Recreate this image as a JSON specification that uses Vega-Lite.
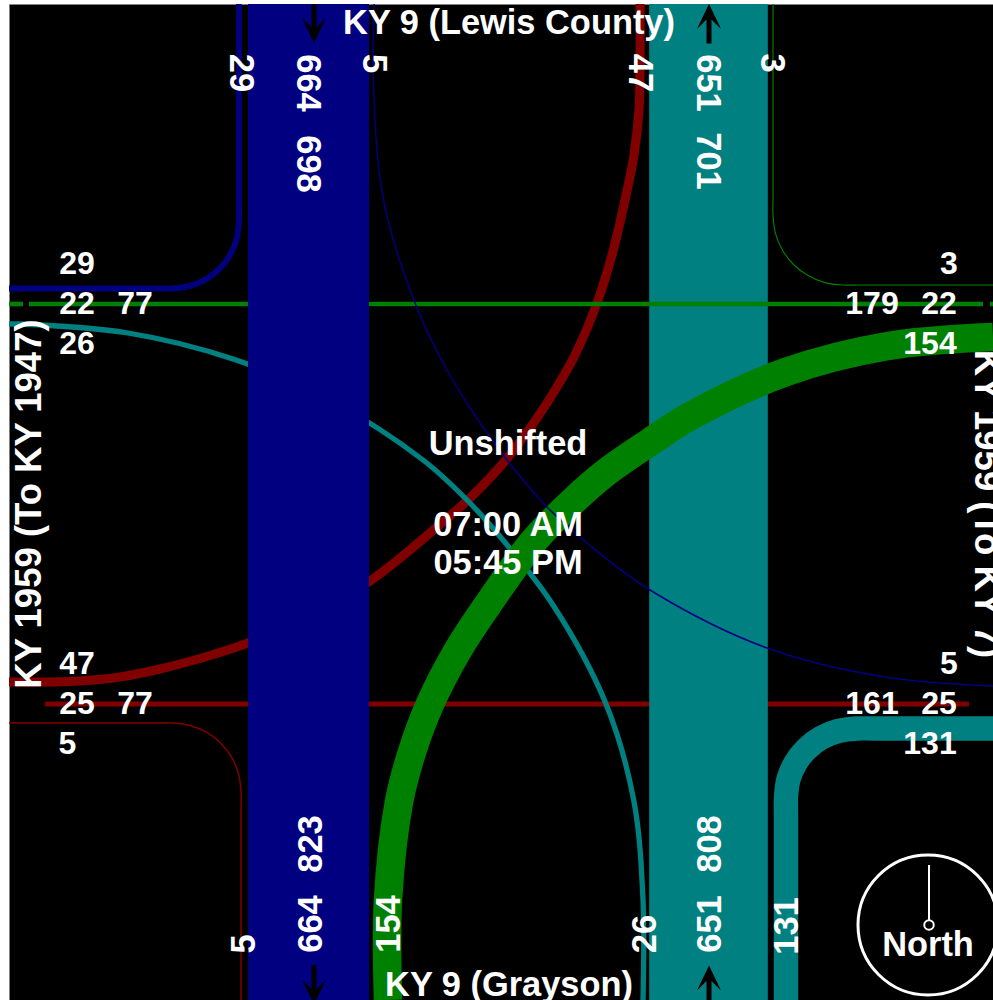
{
"$schema":"https://vega.github.io/schema/vega-lite/v6.json",
"width":984,"height":996,
"autosize":"none",
"padding":{"left":9,"top":4,"right":0,"bottom":0},
"background":"white",
"view":{"fill":"black","stroke":"#808080","strokeWidth":1},
"datasets":{
"flows":[
{"flow":"W-through","approach":"From west","volume":25,"seq":1,"x":45,"y":704},{"flow":"W-through","approach":"From west","volume":25,"seq":2,"x":969,"y":704},
{"flow":"W-left","approach":"From west","volume":47,"seq":1,"x":640,"y":4},{"flow":"W-left","approach":"From west","volume":47,"seq":2,"x":640,"y":70},{"flow":"W-left","approach":"From west","volume":47,"seq":3,"x":639,"y":110},{"flow":"W-left","approach":"From west","volume":47,"seq":4,"x":634,"y":155},{"flow":"W-left","approach":"From west","volume":47,"seq":5,"x":625,"y":200},{"flow":"W-left","approach":"From west","volume":47,"seq":6,"x":612,"y":255},{"flow":"W-left","approach":"From west","volume":47,"seq":7,"x":597,"y":303},{"flow":"W-left","approach":"From west","volume":47,"seq":8,"x":575,"y":355},{"flow":"W-left","approach":"From west","volume":47,"seq":9,"x":557,"y":387},{"flow":"W-left","approach":"From west","volume":47,"seq":10,"x":535,"y":421},{"flow":"W-left","approach":"From west","volume":47,"seq":11,"x":505,"y":461},{"flow":"W-left","approach":"From west","volume":47,"seq":12,"x":470,"y":498},{"flow":"W-left","approach":"From west","volume":47,"seq":13,"x":430,"y":533},{"flow":"W-left","approach":"From west","volume":47,"seq":14,"x":400,"y":558},{"flow":"W-left","approach":"From west","volume":47,"seq":15,"x":370,"y":581},{"flow":"W-left","approach":"From west","volume":47,"seq":16,"x":330,"y":605},{"flow":"W-left","approach":"From west","volume":47,"seq":17,"x":290,"y":626},{"flow":"W-left","approach":"From west","volume":47,"seq":18,"x":248,"y":643},{"flow":"W-left","approach":"From west","volume":47,"seq":19,"x":205,"y":657},{"flow":"W-left","approach":"From west","volume":47,"seq":20,"x":160,"y":669},{"flow":"W-left","approach":"From west","volume":47,"seq":21,"x":120,"y":677},{"flow":"W-left","approach":"From west","volume":47,"seq":22,"x":80,"y":681},{"flow":"W-left","approach":"From west","volume":47,"seq":23,"x":50,"y":682},{"flow":"W-left","approach":"From west","volume":47,"seq":24,"x":9,"y":682},
{"flow":"W-right","approach":"From west","volume":5,"seq":1,"x":9,"y":723},{"flow":"W-right","approach":"From west","volume":5,"seq":2,"x":154,"y":723},{"flow":"W-right","approach":"From west","volume":5,"seq":3,"x":172,"y":723},{"flow":"W-right","approach":"From west","volume":5,"seq":4,"x":189.9,"y":725.4},{"flow":"W-right","approach":"From west","volume":5,"seq":5,"x":206.5,"y":732.2},{"flow":"W-right","approach":"From west","volume":5,"seq":6,"x":220.8,"y":743.2},{"flow":"W-right","approach":"From west","volume":5,"seq":7,"x":231.8,"y":757.5},{"flow":"W-right","approach":"From west","volume":5,"seq":8,"x":238.6,"y":774.1},{"flow":"W-right","approach":"From west","volume":5,"seq":9,"x":241,"y":792},{"flow":"W-right","approach":"From west","volume":5,"seq":10,"x":241,"y":810},{"flow":"W-right","approach":"From west","volume":5,"seq":11,"x":241,"y":1000},
{"flow":"S-left","approach":"From south","volume":26,"seq":1,"x":643,"y":1000},{"flow":"S-left","approach":"From south","volume":26,"seq":2,"x":643,"y":900},{"flow":"S-left","approach":"From south","volume":26,"seq":3,"x":633.7,"y":800},{"flow":"S-left","approach":"From south","volume":26,"seq":4,"x":605.6,"y":703},{"flow":"S-left","approach":"From south","volume":26,"seq":5,"x":553,"y":605},{"flow":"S-left","approach":"From south","volume":26,"seq":6,"x":503,"y":540},{"flow":"S-left","approach":"From south","volume":26,"seq":7,"x":467,"y":500},{"flow":"S-left","approach":"From south","volume":26,"seq":8,"x":423,"y":460},{"flow":"S-left","approach":"From south","volume":26,"seq":9,"x":331.5,"y":401},{"flow":"S-left","approach":"From south","volume":26,"seq":10,"x":233,"y":359},{"flow":"S-left","approach":"From south","volume":26,"seq":11,"x":128,"y":333},{"flow":"S-left","approach":"From south","volume":26,"seq":12,"x":20,"y":324},{"flow":"S-left","approach":"From south","volume":26,"seq":13,"x":9,"y":324},
{"flow":"S-through","approach":"From south","volume":651,"seq":1,"x":708.5,"y":1000},{"flow":"S-through","approach":"From south","volume":651,"seq":2,"x":708.5,"y":4},
{"flow":"S-right","approach":"From south","volume":131,"seq":1,"x":786,"y":1000},{"flow":"S-right","approach":"From south","volume":131,"seq":2,"x":786,"y":815},{"flow":"S-right","approach":"From south","volume":131,"seq":3,"x":786,"y":797.5},{"flow":"S-right","approach":"From south","volume":131,"seq":4,"x":788.4,"y":779.6},{"flow":"S-right","approach":"From south","volume":131,"seq":5,"x":795.5,"y":763},{"flow":"S-right","approach":"From south","volume":131,"seq":6,"x":806.8,"y":748.7},{"flow":"S-right","approach":"From south","volume":131,"seq":7,"x":821.5,"y":737.7},{"flow":"S-right","approach":"From south","volume":131,"seq":8,"x":838.6,"y":730.9},{"flow":"S-right","approach":"From south","volume":131,"seq":9,"x":857,"y":728.5},{"flow":"S-right","approach":"From south","volume":131,"seq":10,"x":875,"y":728.5},{"flow":"S-right","approach":"From south","volume":131,"seq":11,"x":993,"y":728.5},
{"flow":"E-through-a","approach":"From east","volume":22,"seq":1,"x":983,"y":304},{"flow":"E-through-a","approach":"From east","volume":22,"seq":2,"x":29,"y":304},
{"flow":"E-through-b","approach":"From east","volume":22,"seq":1,"x":23,"y":304},{"flow":"E-through-b","approach":"From east","volume":22,"seq":2,"x":9,"y":304},
{"flow":"E-through-c","approach":"From east","volume":22,"seq":1,"x":993,"y":304},{"flow":"E-through-c","approach":"From east","volume":22,"seq":2,"x":990,"y":304},
{"flow":"E-left","approach":"From east","volume":154,"seq":1,"x":388,"y":1000},{"flow":"E-left","approach":"From east","volume":154,"seq":2,"x":388,"y":900},{"flow":"E-left","approach":"From east","volume":154,"seq":3,"x":399,"y":802},{"flow":"E-left","approach":"From east","volume":154,"seq":4,"x":412,"y":752},{"flow":"E-left","approach":"From east","volume":154,"seq":5,"x":430,"y":704},{"flow":"E-left","approach":"From east","volume":154,"seq":6,"x":458,"y":650},{"flow":"E-left","approach":"From east","volume":154,"seq":7,"x":491,"y":600},{"flow":"E-left","approach":"From east","volume":154,"seq":8,"x":533,"y":542},{"flow":"E-left","approach":"From east","volume":154,"seq":9,"x":570,"y":504},{"flow":"E-left","approach":"From east","volume":154,"seq":10,"x":604,"y":474},{"flow":"E-left","approach":"From east","volume":154,"seq":11,"x":650,"y":442},{"flow":"E-left","approach":"From east","volume":154,"seq":12,"x":690.5,"y":416},{"flow":"E-left","approach":"From east","volume":154,"seq":13,"x":786,"y":372},{"flow":"E-left","approach":"From east","volume":154,"seq":14,"x":888,"y":346},{"flow":"E-left","approach":"From east","volume":154,"seq":15,"x":993,"y":337},
{"flow":"E-right","approach":"From east","volume":3,"seq":1,"x":773,"y":4},{"flow":"E-right","approach":"From east","volume":3,"seq":2,"x":773,"y":197},{"flow":"E-right","approach":"From east","volume":3,"seq":3,"x":773,"y":215},{"flow":"E-right","approach":"From east","volume":3,"seq":4,"x":775.4,"y":233.1},{"flow":"E-right","approach":"From east","volume":3,"seq":5,"x":782.4,"y":250},{"flow":"E-right","approach":"From east","volume":3,"seq":6,"x":793.5,"y":264.5},{"flow":"E-right","approach":"From east","volume":3,"seq":7,"x":808,"y":275.6},{"flow":"E-right","approach":"From east","volume":3,"seq":8,"x":824.9,"y":282.6},{"flow":"E-right","approach":"From east","volume":3,"seq":9,"x":843,"y":285},{"flow":"E-right","approach":"From east","volume":3,"seq":10,"x":861,"y":285},{"flow":"E-right","approach":"From east","volume":3,"seq":11,"x":993,"y":285},
{"flow":"N-through","approach":"From north","volume":664,"seq":1,"x":308.5,"y":4},{"flow":"N-through","approach":"From north","volume":664,"seq":2,"x":308.5,"y":1000},
{"flow":"N-right","approach":"From north","volume":29,"seq":1,"x":239,"y":4},{"flow":"N-right","approach":"From north","volume":29,"seq":2,"x":239,"y":205},{"flow":"N-right","approach":"From north","volume":29,"seq":3,"x":239,"y":221.5},{"flow":"N-right","approach":"From north","volume":29,"seq":4,"x":236.7,"y":238.8},{"flow":"N-right","approach":"From north","volume":29,"seq":5,"x":230,"y":255},{"flow":"N-right","approach":"From north","volume":29,"seq":6,"x":219.4,"y":268.9},{"flow":"N-right","approach":"From north","volume":29,"seq":7,"x":205.5,"y":279.5},{"flow":"N-right","approach":"From north","volume":29,"seq":8,"x":189.3,"y":286.2},{"flow":"N-right","approach":"From north","volume":29,"seq":9,"x":172,"y":288.5},{"flow":"N-right","approach":"From north","volume":29,"seq":10,"x":155,"y":288.5},{"flow":"N-right","approach":"From north","volume":29,"seq":11,"x":9,"y":288.5},
{"flow":"N-left","approach":"From north","volume":5,"seq":1,"x":374,"y":4},{"flow":"N-left","approach":"From north","volume":5,"seq":2,"x":374,"y":100},{"flow":"N-left","approach":"From north","volume":5,"seq":3,"x":384,"y":202},{"flow":"N-left","approach":"From north","volume":5,"seq":4,"x":415,"y":303},{"flow":"N-left","approach":"From north","volume":5,"seq":5,"x":447,"y":370},{"flow":"N-left","approach":"From north","volume":5,"seq":6,"x":480,"y":423},{"flow":"N-left","approach":"From north","volume":5,"seq":7,"x":507,"y":460},{"flow":"N-left","approach":"From north","volume":5,"seq":8,"x":547,"y":507},{"flow":"N-left","approach":"From north","volume":5,"seq":9,"x":587,"y":543},{"flow":"N-left","approach":"From north","volume":5,"seq":10,"x":650,"y":590},{"flow":"N-left","approach":"From north","volume":5,"seq":11,"x":767,"y":648},{"flow":"N-left","approach":"From north","volume":5,"seq":12,"x":885,"y":677},{"flow":"N-left","approach":"From north","volume":5,"seq":13,"x":993,"y":686}
],
"arrows":[
{"x":314,"y":23.5,"heading":"down"},{"x":709,"y":23.5,"heading":"up"},{"x":314,"y":985,"heading":"down"},{"x":709,"y":985,"heading":"up"}
],
"needle":[{"x":929,"y":865,"seq":1},{"x":929,"y":920,"seq":2}],
"counts":[
{"label":"29","x":77,"y":264},{"label":"22","x":77,"y":304},{"label":"77","x":135,"y":304},{"label":"26","x":77,"y":344},
{"label":"47","x":77,"y":664},{"label":"25","x":77,"y":704},{"label":"77","x":135,"y":704},{"label":"5","x":67.5,"y":744},
{"label":"3","x":949,"y":264},{"label":"179","x":872,"y":304},{"label":"22","x":939,"y":304},{"label":"154","x":930,"y":344},
{"label":"5","x":949,"y":664},{"label":"161","x":872,"y":704},{"label":"25","x":939,"y":704},{"label":"131","x":930,"y":744}
],
"titles":[
{"label":"Unshifted","x":508,"y":445},{"label":"07:00 AM","x":508,"y":526},{"label":"05:45 PM","x":508,"y":564},
{"label":"North","x":928,"y":946},{"label":"KY 9 (Lewis County)","x":509,"y":24},{"label":"KY 9 (Grayson)","x":509,"y":986}
],
"down":[
{"label":"29","x":240,"y":73},{"label":"664","x":307,"y":83},{"label":"698","x":307,"y":164},{"label":"5","x":373,"y":63.5},
{"label":"47","x":639,"y":73},{"label":"651","x":707,"y":83},{"label":"701","x":707,"y":161},{"label":"3","x":771,"y":63}
],
"up":[
{"label":"823","x":312,"y":844},{"label":"664","x":312,"y":924},{"label":"154","x":390,"y":924},{"label":"5","x":245,"y":944},
{"label":"26","x":646,"y":934},{"label":"651","x":711,"y":924},{"label":"808","x":711,"y":844},{"label":"131","x":788,"y":926}
],
"roadEast":[{"label":"KY 1959 (To KY 7)","x":975,"y":504}],
"roadWest":[{"label":"KY 1959 (To KY 1947)","x":41,"y":504}],
"ring":[{"x":928,"y":925,"part":"compass"}],
"hub":[{"x":929,"y":925,"part":"hub"}]
},
"encoding":{
"x":{"field":"x","type":"quantitative","axis":null,"scale":{"domain":[9,993],"nice":false,"zero":false}},
"y":{"field":"y","type":"quantitative","axis":null,"scale":{"domain":[1000,4],"nice":false,"zero":false}}
},
"layer":[
{"data":{"name":"flows"},"mark":{"type":"line","interpolate":"catmull-rom","strokeCap":"butt","clip":true},
 "encoding":{
  "detail":{"field":"flow"},
  "order":{"field":"seq","type":"quantitative"},
  "color":{"field":"approach","type":"nominal","legend":null,"scale":{"domain":["From west","From south","From east","From north"],"range":["#800000","#008080","#008000","#000080"]}},
  "strokeWidth":{"field":"volume","type":"quantitative","legend":null,"scale":{"domain":[0,664],"range":[0.6,121]}}
 }},
{"data":{"name":"arrows"},"mark":{"type":"point","filled":true,"opacity":1,"size":1600,"color":"black","clip":true},
 "encoding":{"shape":{"field":"heading","type":"nominal","legend":null,"scale":{"domain":["down","up"],"range":[
 "M-.125,-1 L.125,-1 L.125,.2 L.6,-.27 L0,.98 L-.6,-.27 L-.125,.2 Z",
 "M-.125,1 L.125,1 L.125,-.2 L.6,.27 L0,-.98 L-.6,.27 L-.125,-.2 Z"]}}}},
{"data":{"name":"ring"},"mark":{"type":"point","shape":"circle","filled":false,"size":19600,"stroke":"white","strokeWidth":3,"opacity":1}},
{"data":{"name":"needle"},"mark":{"type":"line","color":"white","strokeWidth":2},"encoding":{"order":{"field":"seq","type":"quantitative"}}},
{"data":{"name":"hub"},"mark":{"type":"point","shape":"circle","filled":false,"size":90,"stroke":"white","strokeWidth":2,"opacity":1}},
{"data":{"name":"counts"},"mark":{"type":"text","font":"Liberation Sans","fontWeight":"bold","fontSize":32,"color":"white","baseline":"middle","align":"center"},"encoding":{"text":{"field":"label"}}},
{"data":{"name":"titles"},"mark":{"type":"text","font":"Liberation Sans","fontWeight":"bold","fontSize":34.4,"color":"white","baseline":"middle","align":"center"},"encoding":{"text":{"field":"label"}}},
{"data":{"name":"down"},"mark":{"type":"text","font":"Liberation Sans","fontWeight":"bold","fontSize":34.5,"color":"white","baseline":"middle","align":"center","angle":90},"encoding":{"text":{"field":"label"}}},
{"data":{"name":"up"},"mark":{"type":"text","font":"Liberation Sans","fontWeight":"bold","fontSize":34.5,"color":"white","baseline":"middle","align":"center","angle":270},"encoding":{"text":{"field":"label"}}},
{"data":{"name":"roadEast"},"mark":{"type":"text","font":"Liberation Sans","fontWeight":"bold","fontSize":36.5,"color":"white","baseline":"alphabetic","align":"center","angle":90},"encoding":{"text":{"field":"label"}}},
{"data":{"name":"roadWest"},"mark":{"type":"text","font":"Liberation Sans","fontWeight":"bold","fontSize":36.5,"color":"white","baseline":"alphabetic","align":"center","angle":270},"encoding":{"text":{"field":"label"}}}
]
}
